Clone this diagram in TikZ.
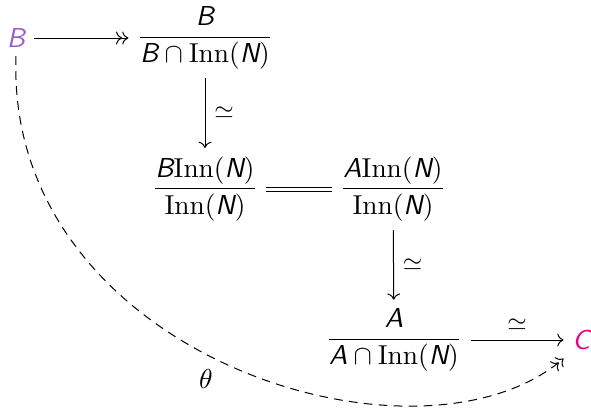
\documentclass[tikz,border=0pt,11pt]{standalone}
\usepackage{amsmath}
\usetikzlibrary{arrows.meta}
\definecolor{bpurple}{RGB}{155,89,208}
\definecolor{cmag}{RGB}{236,0,140}
\newcommand{\sv}[1]{\text{\sffamily\itshape #1}}
\begin{document}
\begin{tikzpicture}[x=0.4pt,y=-0.4pt,
  >={Computer Modern Rightarrow},
  obj/.style={inner sep=3.3pt},
  map/.style={line width=0.4pt},
  lbl/.style={inner sep=3.5pt, font=\small}]
\useasboundingbox (0,0) rectangle (591,414);
\node[obj, text=bpurple] (B) at (16,38) {$\sv{B}$};
\node[obj] (F1) at (205,38) {$\dfrac{\sv{B}}{\sv{B}\cap\mathrm{Inn}(\sv{N})}$};
\node[obj] (F2) at (205,189) {$\dfrac{\sv{B}\mathrm{Inn}(\sv{N})}{\mathrm{Inn}(\sv{N})}$};
\node[obj] (F3) at (393,189) {$\dfrac{\sv{A}\mathrm{Inn}(\sv{N})}{\mathrm{Inn}(\sv{N})}$};
\node[obj] (F4) at (394,340) {$\dfrac{\sv{A}}{\sv{A}\cap\mathrm{Inn}(\sv{N})}$};
\node[obj, text=cmag] (C) at (581,340) {$\sv{C}$};
\draw[map, ->>] (B) -- (F1);
\draw[map, ->] (F1) -- node[right, lbl] (l1) {$\simeq$} (F2);
\draw[map, double, double distance=1.2pt] (F2) -- (F3);
\draw[map, ->] (F3) -- node[right, lbl] (l2) {$\simeq$} (F4);
\draw[map, ->] (F4) -- node[above, lbl] (l3) {$\simeq$} (C);
\draw[map, ->>, dash pattern=on 3.5pt off 2.5pt] (B.south) .. controls +(-11,300) and +(-145,124) .. (C.south west);
\node (th) at (206,379) {$\theta$};
\end{tikzpicture}
\end{document}
